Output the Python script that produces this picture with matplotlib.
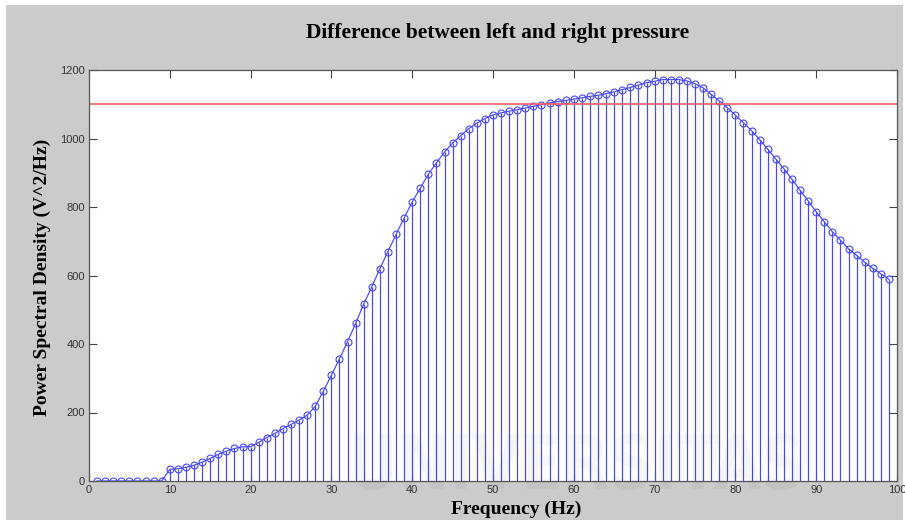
import numpy as np
import matplotlib.pyplot as plt
from matplotlib.textpath import TextPath
from matplotlib.font_manager import FontProperties
from matplotlib.patches import PathPatch, Rectangle
from matplotlib.transforms import Affine2D

# PSD of the left/right pressure difference, one value per Hz
freq = list(range(1, 100))
psd = [0, 0, 0, 0, 0, 0, 0, 0, 0,
       34, 36, 40, 46, 55, 66, 78, 87, 95, 100,
       100, 113, 127, 139, 153, 165, 178, 192, 218, 262,
       309, 357, 407, 460, 517, 567, 620, 670, 720, 768,
       815, 855, 896, 929, 960, 987, 1008, 1029, 1045, 1058,
       1069, 1075, 1080, 1084, 1089, 1094, 1099, 1104, 1108, 1111,
       1115, 1119, 1123, 1126, 1131, 1136, 1143, 1149, 1156, 1163,
       1167, 1172, 1172, 1172, 1168, 1160, 1148, 1129, 1110, 1090,
       1068, 1046, 1023, 997, 969, 940, 912, 881, 849, 818,
       786, 757, 728, 703, 678, 659, 639, 621, 605, 589]
threshold = 1100
xticks = list(range(0, 101, 10))
yticks = list(range(0, 1201, 200))

W, H = 905, 520
fig = plt.figure(figsize=(W / 100, H / 100), dpi=100, facecolor='white')
# grey matlab-like window background
fig.patches.append(Rectangle((6 / W, 0), 897 / W, 1 - 5 / H, transform=fig.transFigure,
                             facecolor='#cbcbcb', edgecolor='none', zorder=-10))

ax = fig.add_axes([89 / W, 39 / H, 808 / W, 411 / H])
ax.set_facecolor('white')

blue = '#4646ff'
markerline, stemlines, baseline = ax.stem(freq, psd, linefmt='-', markerfmt='o', basefmt=' ')
plt.setp(stemlines, color=blue, linewidth=0.85)
plt.setp(markerline, color=blue, markerfacecolor='none', markersize=5, markeredgewidth=0.8)
ax.plot(freq, psd, color=blue, linewidth=0.85)
ax.axhline(threshold, color='#ff5555', linewidth=1.1)

ax.set_xlim(0, 100)
ax.set_ylim(0, 1200)
ax.set_xticks(xticks)
ax.set_yticks(yticks)
ax.tick_params(direction='in', length=6, width=0.8, top=True, right=True,
               labelsize=8, labelcolor='#333333', color='#444444', pad=3)
for lab in ax.get_xticklabels() + ax.get_yticklabels():
    lab.set_family('Liberation Sans')
for sp in ax.spines.values():
    sp.set_color('#555555')
    sp.set_linewidth(0.9)

serif = dict(family='Liberation Serif', weight='bold')
fig.text(498 / W, 1 - 33 / H, 'Difference between left and right pressure',
         ha='center', va='center', fontsize=15.4, **serif)
fig.text(516 / W, 1 - 509 / H, 'Frequency (Hz)', ha='center', va='center', fontsize=14, **serif)
fig.text(42 / W, 1 - 277 / H, 'Power Spectral Density (V^2/Hz)', ha='center', va='center',
         rotation=90, fontsize=14, **serif)

# faint watermark across the lower part
tp = TextPath((0, 0), 'UNIVERSITAS', prop=FontProperties(family='DejaVu Sans', weight='bold'))
bb = tp.get_extents()
x0, x1, y0, y1 = 354, 801, H - 490, H - 433
tr = (Affine2D().translate(-bb.x0, -bb.y0)
      .scale((x1 - x0) / bb.width / W, (y1 - y0) / bb.height / H)
      .translate(x0 / W, y0 / H))
wm = PathPatch(tr.transform_path(tp), transform=fig.transFigure,
               facecolor='black', edgecolor='none', alpha=0.035, zorder=10)
fig.patches.append(wm)

fig.savefig('out.png', dpi=100, facecolor=fig.get_facecolor())
